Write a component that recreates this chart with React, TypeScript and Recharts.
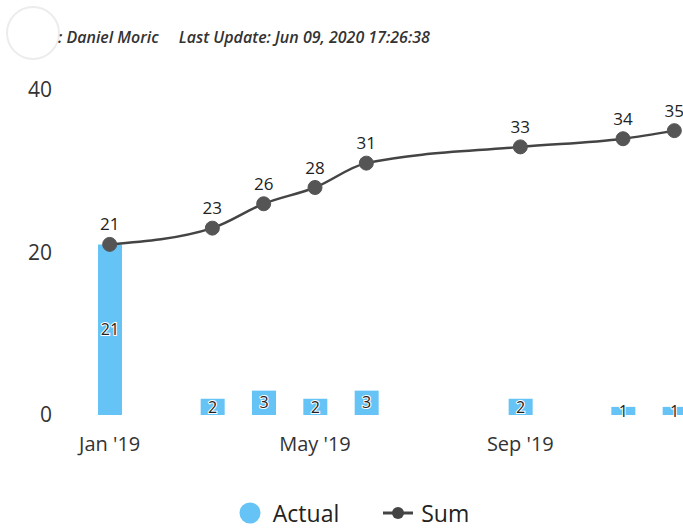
import { Bar, ComposedChart, LabelList, Legend, Line, XAxis, YAxis } from "recharts";

const months = [
  "Jan '19", "Feb '19", "Mar '19", "Apr '19", "May '19", "Jun '19",
  "Jul '19", "Aug '19", "Sep '19", "Oct '19", "Nov '19", "Dec '19"
];
const actual = [21, null, 2, 3, 2, 3, null, null, 2, null, 1, 1];
const sum = [21, null, 23, 26, 28, 31, null, null, 33, null, 34, 35];
const yTicks = [0, 20, 40];

const data = months.map((month, i) => ({ month, actual: actual[i], sum: sum[i] }));

const FONT = "'Open Sans', 'DejaVu Sans', sans-serif";
const BLUE = "#66c3f5";
const DARK = "#444444";

function LegendContent() {
  return (
    <div style={{ display: "flex", justifyContent: "center", alignItems: "center", fontFamily: FONT, fontSize: 23, color: "#222", paddingLeft: 8 }}>
      <svg width={22} height={22} style={{ marginRight: 12 }}>
        <circle cx={11} cy={11} r={10.5} fill={BLUE} />
      </svg>
      <span style={{ marginRight: 44 }}>Actual</span>
      <svg width={30} height={16} style={{ marginRight: 8 }}>
        <line x1={0} y1={8} x2={30} y2={8} stroke={DARK} strokeWidth={3} />
        <circle cx={15} cy={8} r={6} fill={DARK} />
      </svg>
      <span>Sum</span>
    </div>
  );
}

export default function App() {
  return (
    <div style={{ position: "fixed", left: 0, top: 0, width: 683, height: 529, overflow: "hidden", background: "#fff" }}>
      <div
        style={{
          position: "absolute", left: 6, top: 6, width: 54, height: 54, borderRadius: "50%",
          border: "2px solid #ececec", boxSizing: "border-box"
        }}
      />
      <div
        style={{
          position: "absolute", left: 58, top: 26, fontFamily: FONT, fontStyle: "italic",
          fontWeight: 600, fontSize: 16, color: "#333", whiteSpace: "nowrap"
        }}
      >
        : Daniel Moric<span style={{ marginLeft: 20 }}>Last Update: Jun 09, 2020 17:26:38</span>
      </div>
      <ComposedChart
        width={700}
        height={529}
        data={data}
        margin={{ top: 90, right: 0, bottom: 0, left: 0 }}
        style={{ position: "absolute", left: 0, top: 0 }}
      >
        <XAxis
          dataKey="month"
          interval={3}
          axisLine={false}
          tickLine={false}
          tickSize={0}
          tickMargin={22}
          height={82}
          tick={{ fontFamily: FONT, fontSize: 20, fill: "#333" }}
        />
        <YAxis
          domain={[0, 40]}
          ticks={yTicks}
          axisLine={false}
          tickLine={false}
          tickSize={0}
          tickMargin={32}
          width={84}
          tick={{ fontFamily: FONT, fontSize: 21, fill: "#333" }}
        />
        <Legend verticalAlign="bottom" height={32} content={<LegendContent />} />
        <Bar dataKey="actual" name="Actual" fill={BLUE} barSize={24} isAnimationActive={false}>
          <LabelList
            dataKey="actual"
            position="center"
            style={{ fontFamily: FONT, fontSize: 16, fill: "#222", stroke: "#fff", strokeWidth: 2, paintOrder: "stroke" }}
          />
        </Bar>
        <Line
          type="monotone"
          dataKey="sum"
          name="Sum"
          stroke={DARK}
          strokeWidth={2.5}
          connectNulls
          dot={{ r: 7, fill: "#555", stroke: "#555", strokeWidth: 1 }}
          isAnimationActive={false}
        >
          <LabelList
            dataKey="sum"
            position="top"
            offset={14}
            style={{ fontFamily: FONT, fontSize: 17, fill: "#222" }}
          />
        </Line>
      </ComposedChart>
    </div>
  );
}
